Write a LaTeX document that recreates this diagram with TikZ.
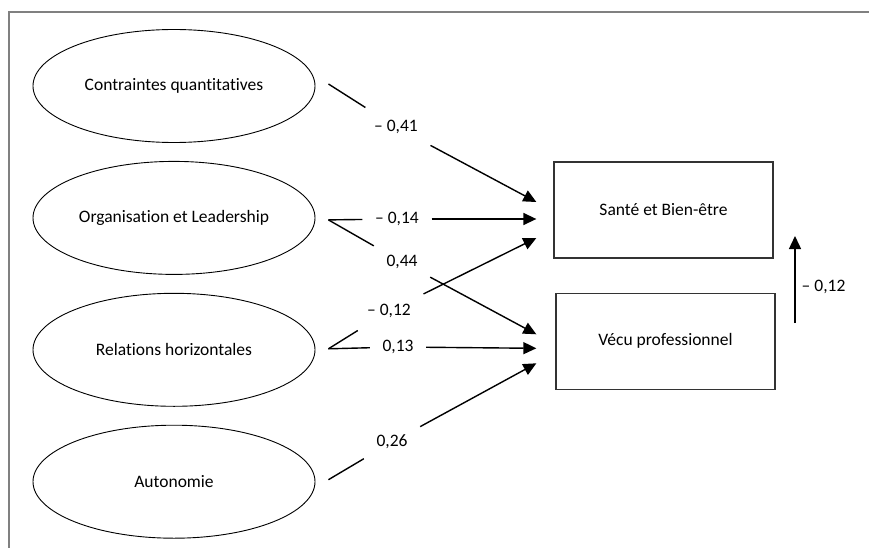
\documentclass[tikz,border=0pt]{standalone}
\usepackage{fontspec}
\setmainfont{Carlito}[Ligatures=NoCommon]
\usetikzlibrary{arrows.meta,positioning,shapes.geometric}
\tikzstyle{latent}=[ellipse,draw,line width=0.9pt,minimum width=282pt,minimum height=113pt]
\tikzstyle{outcome}=[rectangle,draw=black!80,line width=1.3pt,minimum width=219pt,minimum height=96pt]
\tikzstyle{coef}=[inner sep=12pt]

\begin{document}
\begin{tikzpicture}[x=1pt,y=-1pt,>={Triangle[length=13pt,width=12pt]},line width=1.4pt,
                    node distance=18pt,font=\fontsize{17.5}{20}\selectfont]
  \useasboundingbox (0,0) rectangle (869,548);
  \draw[gray,line width=1.6pt] (9,548) |- (869,12);

  % latent factors
  \node[latent] (cq) at (174,86) {Contraintes quantitatives};
  \node[latent, below=of cq] (ol) {Organisation et Leadership};
  \node[latent, below=of ol] (rh) {Relations horizontales};
  \node[latent, below=of rh] (au) {Autonomie};

  % outcomes
  \node[outcome] (sbe) at (663.5,210) {Santé et Bien-être};
  \node[outcome, below=34pt of sbe, xshift=2pt] (vp) {Vécu professionnel};

  % coefficients
  \node[coef] (c1) at (396,127) {– 0,41};
  \node[coef] (c2) at (397,219) {– 0,14};
  \node[coef] (c3) at (402,262) {0,44};
  \node[coef] (c4) at (389,311) {– 0,12};
  \node[coef] (c5) at (398,347) {0,13};
  \node[coef] (c6) at (392,442) {0,26};

  \coordinate (cq-o) at ([xshift=13pt,yshift=2pt]cq.east);
  \coordinate (ol-o) at ([xshift=13pt,yshift=-2pt]ol.east);
  \coordinate (rh-o) at ([xshift=13pt,yshift=1pt]rh.east);
  \coordinate (au-o) at ([xshift=13pt,yshift=2pt]au.east);

  \coordinate (sbe-1) at ([xshift=-17pt,yshift=8pt]sbe.west);
  \coordinate (sbe-2) at ([xshift=-17pt,yshift=-9pt]sbe.west);
  \coordinate (sbe-3) at ([xshift=-17pt,yshift=-28pt]sbe.west);
  \coordinate (vp-1) at ([xshift=-19pt,yshift=7pt]vp.west);
  \coordinate (vp-2) at ([xshift=-19pt,yshift=-7pt]vp.west);
  \coordinate (vp-3) at ([xshift=-19pt,yshift=-22pt]vp.west);

  \path (cq-o) edge (c1)  (c1) edge[->] (sbe-1)
        (ol-o) edge (c2)  (c2) edge[->] (sbe-2)
        (ol-o) edge (c3)  (c3) edge[->] (vp-1)
        (rh-o) edge (c4)  (c4) edge[->] (sbe-3)
        (rh-o) edge (c5)  (c5) edge[->] (vp-2)
        (au-o) edge (c6)  (c6) edge[->] (vp-3);

  % feedback
  \coordinate (fb-a) at (795,323);
  \coordinate (fb-b) at (795,236);
  \draw[->] (fb-a) -- node[pos=0.41,right,inner sep=6pt] {– 0,12} (fb-b);
\end{tikzpicture}
\end{document}
